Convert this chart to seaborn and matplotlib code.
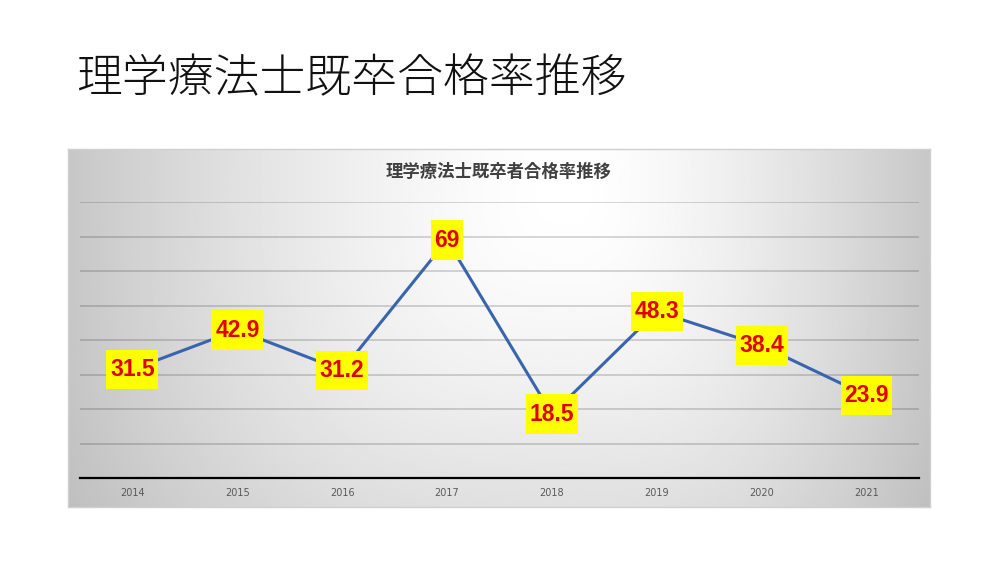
import numpy as np
import pandas as pd
import seaborn as sns
from matplotlib import pyplot as plt
from matplotlib.path import Path

years = ["2014", "2015", "2016", "2017", "2018", "2019", "2020", "2021"]
rates = [31.5, 42.9, 31.2, 69, 18.5, 48.3, 38.4, 23.9]
slide_title = "理学療法士既卒合格率推移"
chart_title = "理学療法士既卒者合格率推移"

sns.set_style("white")
plt.rcParams['font.family'] = ['Noto Sans CJK JP', 'DejaVu Sans']

df = pd.DataFrame({"year": years, "rate": rates})


def label_box(x0, y0, width, height, mutation_size):
    # yellow label box, more padding top/bottom than left/right
    px = 0.16 * mutation_size
    py = 0.36 * mutation_size
    x0, y0 = x0 - px, y0 - py
    x1, y1 = x0 + width + 2 * px, y0 + height + 2 * py
    return Path([(x0, y0), (x1, y0), (x1, y1), (x0, y1), (x0, y0)], closed=True)


fig = plt.figure(figsize=(10, 5.63), dpi=100)
fig.patch.set_facecolor("white")

# chart area with radial grey gradient (lightest near top centre)
bg = fig.add_axes([0.068, 0.0995, 0.862, 0.636])
h, w = 180, 430
yy, xx = np.mgrid[0:h, 0:w]
fx = xx / w
fy = yy / h
cx, cy = 0.58, 0.12
dx = np.where(fx < cx, (cx - fx) / cx, (fx - cx) / (1 - cx))
dy = np.abs(fy - cy) / 1.3
r = (dx ** 3 + dy ** 3) ** (1 / 3)
shade = 1 - 0.22 * np.clip(r, 0, 1.1) ** 1.5
bg.imshow(shade, cmap="gray", vmin=0, vmax=1, aspect="auto", extent=[0, 1, 0, 1])
bg.set_xticks([])
bg.set_yticks([])
for s in bg.spines.values():
    s.set_color("#d0d0d0")
    s.set_linewidth(1)

ax = fig.add_axes([0.08, 0.151, 0.839, 0.490])
ax.patch.set_alpha(0)
sns.lineplot(data=df, x="year", y="rate", ax=ax, color="#3a64ad", linewidth=2.2, sort=False)

ax.set_xlim(-0.5, 7.5)
ax.set_ylim(0, 80)
ax.set_yticks(np.arange(10, 81, 10))
ax.yaxis.grid(True, color="black", alpha=0.2, linewidth=1.1)
ax.set_axisbelow(True)
ax.tick_params(axis="y", left=False, labelleft=False)
ax.tick_params(axis="x", bottom=False, pad=4, labelsize=7, labelcolor="#595959")
for lbl in ax.get_xticklabels():
    lbl.set_family("DejaVu Sans")
for side in ["top", "left", "right"]:
    ax.spines[side].set_visible(False)
ax.spines["bottom"].set_color("black")
ax.spines["bottom"].set_linewidth(1.6)
ax.set_xlabel("")
ax.set_ylabel("")

for i, v in enumerate(rates):
    ax.text(i, v, f"{v:g}", ha="center", va="center", color="#e00000",
            fontsize=16.5, fontweight="bold", family=["Liberation Sans", "DejaVu Sans"],
            zorder=5,
            bbox=dict(boxstyle=label_box, fc="#ffff00", ec="none"))

fig.text(0.499, 0.695, chart_title, ha="center", va="center",
         fontsize=12.5, fontweight="bold", color="#404040")
fig.text(0.076, 0.858, slide_title, ha="left", va="center",
         fontsize=33, fontweight="light", color="#111111")

plt.savefig("out.png", dpi=100)
